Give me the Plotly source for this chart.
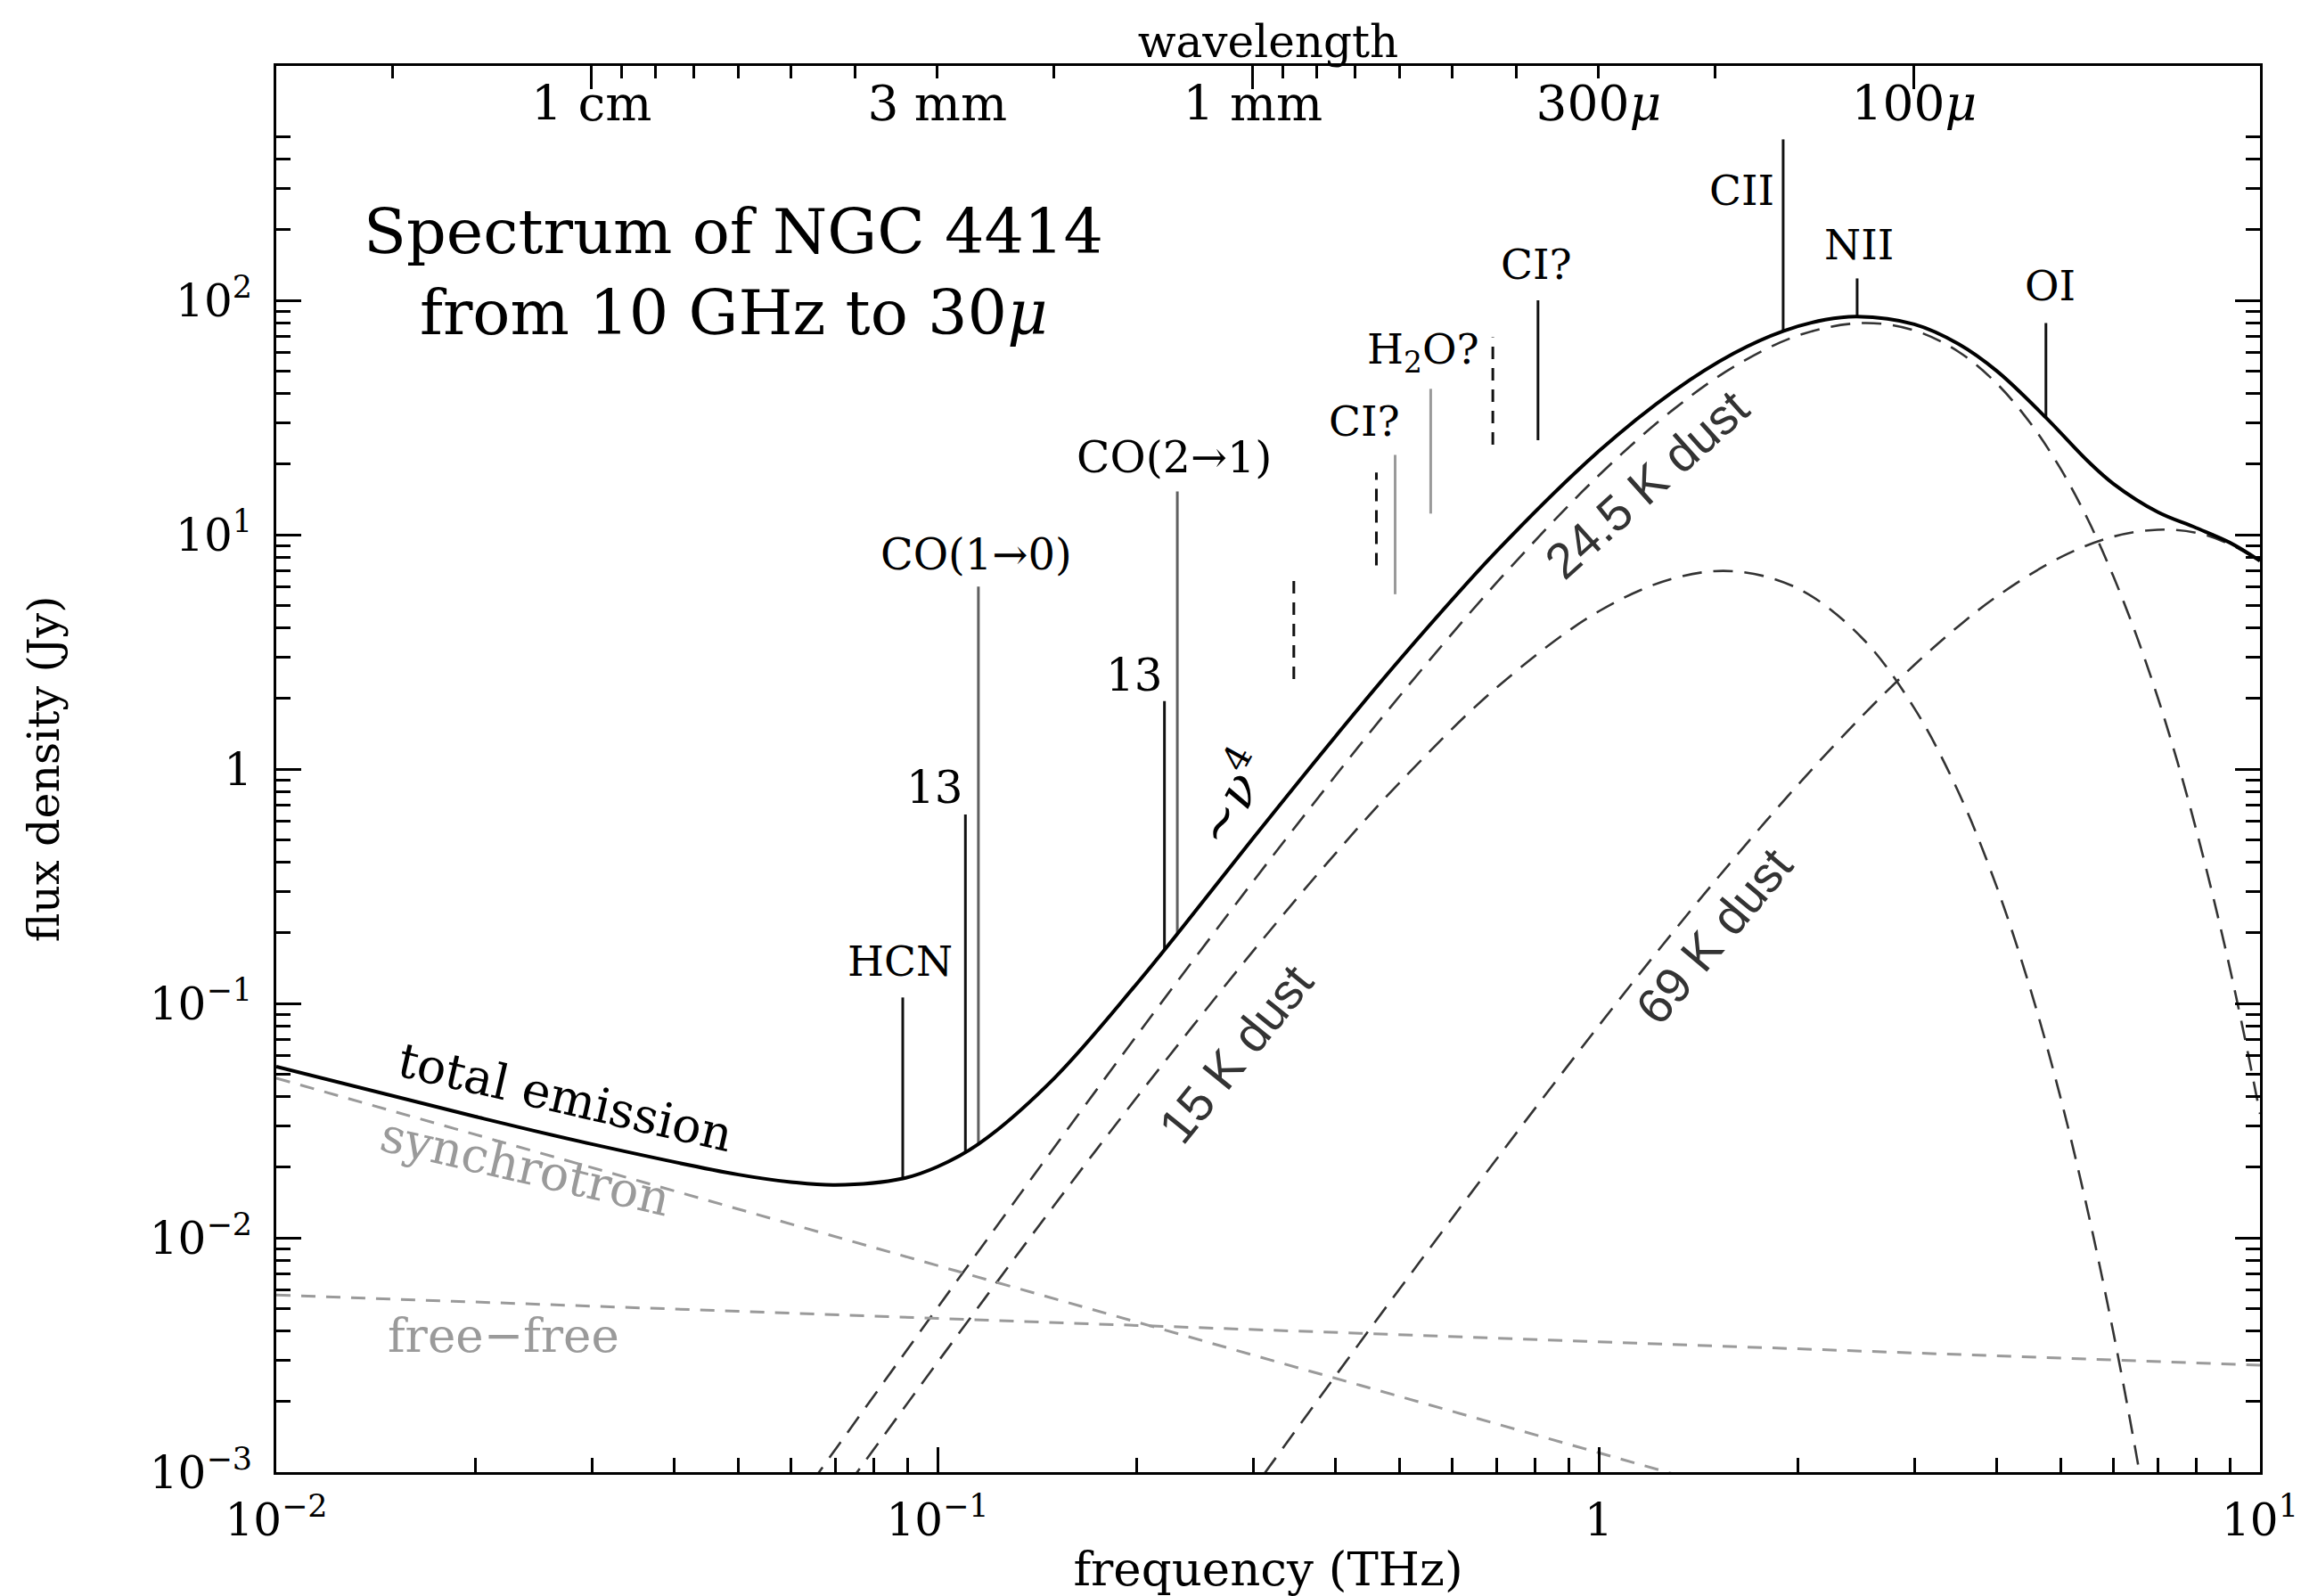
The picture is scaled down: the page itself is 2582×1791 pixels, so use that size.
import numpy as np
import plotly.graph_objects as go

C_THZ_MM = 0.299792458  # speed of light in THz * mm

# ---------------- data ----------------
# total emission (THz, Jy)
freq_total = [0.01, 0.02, 0.03, 0.05, 0.06, 0.07, 0.0886, 0.1, 0.1153, 0.15, 0.2, 0.2305,
              0.3, 0.4, 0.5, 0.7, 1.0, 1.3, 1.6, 1.9, 2.2, 2.459, 3.0, 3.5, 4.0, 4.745,
              5.5, 6.0, 7.0, 8.0, 9.0, 10.0]
flux_total = [0.0537, 0.0329, 0.0251, 0.0186, 0.0173, 0.0168, 0.0179, 0.0201, 0.0251, 0.0478,
              0.121, 0.198, 0.506, 1.38, 2.93, 8.47, 22.7, 41.1, 59.4, 73.9, 82.6, 85.2,
              79.0, 65.1, 49.9, 31.6, 20.5, 16.5, 12.5, 10.7, 9.25, 7.73]

# 24.5 K dust
freq_dust24 = [0.05, 0.07, 0.1, 0.15, 0.2, 0.3, 0.4, 0.5, 0.7, 1.0, 1.3, 1.6, 2.0, 2.5, 3.0,
               3.5, 4.0, 4.5, 5.0, 5.5, 6.0, 6.5, 7.0, 7.5, 8.0, 8.5, 9.0, 9.5, 10.0]
flux_dust24 = [3.31e-4, 1.245e-3, 5.03e-3, 0.0242, 0.0727, 0.331, 0.938, 2.05, 6.22, 17.9,
               34.4, 52.0, 70.7, 80.0, 74.4, 60.3, 44.1, 29.8, 19.0, 11.5, 6.65, 3.73, 2.03,
               1.075, 0.557, 0.283, 0.142, 0.0697, 0.0338]

# 15 K dust
freq_dust15 = [0.05, 0.07, 0.1, 0.15, 0.2, 0.3, 0.4, 0.5, 0.7, 1.0, 1.3, 1.6, 2.0, 2.5, 3.0,
               3.5, 4.0, 4.5, 5.0, 5.5, 6.0, 6.5, 7.0]
flux_dust15 = [2.0e-4, 7.42e-4, 2.94e-3, 0.0137, 0.0396, 0.167, 0.437, 0.876, 2.22, 4.71,
               6.52, 6.98, 5.90, 3.63, 1.82, 0.796, 0.313, 0.114, 0.0390, 0.0127, 3.95e-3,
               1.19e-3, 3.48e-4]

# 69 K dust
freq_dust69 = [0.2, 0.3, 0.4, 0.5, 0.7, 1.0, 1.3, 1.6, 2.0, 2.5, 3.0, 3.5, 4.0, 5.0, 6.0,
               7.0, 8.0, 9.0, 10.0]
flux_dust69 = [1.73e-4, 8.45e-4, 2.58e-3, 6.06e-3, 0.0216, 0.0803, 0.204, 0.414, 0.855, 1.68,
               2.78, 4.07, 5.45, 8.03, 9.81, 10.5, 10.2, 9.11, 7.69]

# synchrotron and free-free
freq_sync = [0.01, 0.03, 0.1, 0.3, 1.0, 2.0]
flux_sync = [0.048, 0.0199, 0.00761, 0.00316, 0.00121, 0.000693]
freq_ff = [0.01, 0.03, 0.1, 0.3, 1.0, 3.0, 10.0]
flux_ff = [0.0057, 0.00511, 0.00453, 0.00406, 0.0036, 0.00322, 0.00286]

# spectral lines: frequency, lower and upper flux
line_names = ["HCN", "13CO(1-0)", "CO(1-0)", "13CO(2-1)", "CO(2-1)", "CO(3-2)", "CO(4-3)",
              "CI(1-0)", "H2O", "CO(6-5)", "CI(2-1)", "CII", "NII", "OI"]
line_freq = [0.0886, 0.1102, 0.1153, 0.2204, 0.2305, 0.3458, 0.4610, 0.4921, 0.5570,
             0.6915, 0.8093, 1.9005, 2.459, 4.745]
line_low = [0.0179, 0.0231, 0.0251, 0.170, 0.198, 2.42, 7.4, 5.57, 12.3, 24.2, 25.3,
            73.9, 85.2, 31.6]
line_high = [0.106, 0.64, 6.0, 1.95, 15.3, 6.63, 18.4, 21.9, 41.9, 69.5, 100.0, 486.0,
             124.0, 80.0]
line_kind = ["dark", "dark", "mid", "dark", "mid", "dash", "dash", "light", "light", "dash",
             "dark", "dark", "dark", "dark"]

# axis tick labels
x_tick_vals = [0.01, 0.1, 1, 10]
x_tick_text = ["10<sup>−2</sup>", "10<sup>−1</sup>", "1", "10<sup>1</sup>"]
y_tick_vals = [1e-3, 1e-2, 1e-1, 1, 10, 100, 1000]
y_tick_text = ["10<sup>−3</sup>", "10<sup>−2</sup>", "10<sup>−1</sup>", "1",
               "10<sup>1</sup>", "10<sup>2</sup>", "10<sup>3</sup>"]
wl_label_mm = [10, 3, 1, 0.3, 0.1]
wl_label_text = ["1 cm", "3 mm", "1 mm", "300<i>μ</i>", "100<i>μ</i>"]
wl_major_mm = [10, 1, 0.1]
wl_minor_mm = [20, 9, 8, 7, 6, 5, 4, 3, 2, 0.9, 0.8, 0.7, 0.6, 0.5, 0.4, 0.3, 0.2]

# ---------------- figure ----------------
FONT = "DejaVu Serif"
SANS = "Liberation Sans"
fig = go.Figure()

DUST = dict(color="#333333", width=2.6, dash="22px,13px", shape="spline")
fig.add_trace(go.Scatter(x=freq_dust24, y=flux_dust24, mode="lines", line=DUST, hoverinfo="skip"))
fig.add_trace(go.Scatter(x=freq_dust15, y=flux_dust15, mode="lines", line=DUST, hoverinfo="skip"))
fig.add_trace(go.Scatter(x=freq_dust69, y=flux_dust69, mode="lines", line=DUST, hoverinfo="skip"))

GRAYDASH = dict(color="#9a9a9a", width=3, dash="16px,12px")
fig.add_trace(go.Scatter(x=freq_ff, y=flux_ff, mode="lines", line=GRAYDASH,
                         xaxis="x2", yaxis="y", hoverinfo="skip"))
fig.add_trace(go.Scatter(x=freq_sync, y=flux_sync, mode="lines", line=GRAYDASH,
                         xaxis="x3", yaxis="y", hoverinfo="skip"))

styles = {
    "dark": dict(color="#111111", width=3),
    "mid": dict(color="#606060", width=3),
    "light": dict(color="#9a9a9a", width=3),
    "dash": dict(color="#111111", width=3, dash="14px,10px"),
}
for kind, st in styles.items():
    xs, ys = [], []
    for f, lo, hi, k in zip(line_freq, line_low, line_high, line_kind):
        if k == kind:
            xs += [f, f, None]
            ys += [lo, hi, None]
    fig.add_trace(go.Scatter(x=xs, y=ys, mode="lines", line=st, hoverinfo="skip"))

fig.add_trace(go.Scatter(x=freq_total, y=flux_total, mode="lines",
                         line=dict(color="black", width=4, shape="spline"), hoverinfo="skip"))

# ---------------- annotations ----------------
def ann(text, lx, ly, size=47, angle=0, color="black", family=FONT):
    fig.add_annotation(x=lx, y=ly, xref="x", yref="y", text=text, showarrow=False,
                       textangle=angle, font=dict(family=family, size=size, color=color))

ann("Spectrum of NGC 4414", -1.308, 2.292, size=70)
ann("from 10 GHz to 30<i>μ</i>", -1.308, 1.948, size=70)
ann("HCN", -1.057, -0.820)
ann("13", -1.004, -0.081, size=50)
ann("CO(1→0)", -0.942, 0.915, size=48)
ann("13", -0.702, 0.401, size=50)
ann("CO(2→1)", -0.642, 1.328, size=49)
ann("CI?", -0.354, 1.485)
ann("H<sub>2</sub>O?", -0.265, 1.779)
ann("CI?", -0.094, 2.155)
ann("CII", 0.2165, 2.468)
ann("NII", 0.394, 2.236)
ann("OI", 0.6825, 2.061)
ann("~<i>ν</i><sup>4</sup>", -0.558, -0.118, size=58, angle=-61)
ann("24.5 K dust", 0.0723, 1.215, size=56, angle=-42, color="#333333", family=SANS)
ann("15 K dust", -0.549, -1.214, size=56, angle=-51, color="#333333", family=SANS)
ann("69 K dust", 0.174, -0.713, size=56, angle=-50, color="#333333", family=SANS)
ann("total emission", -1.563, -1.402, size=54, angle=13)
ann("synchrotron", -1.623, -1.696, size=54, angle=13, color="#9a9a9a")
ann("free−free", -1.656, -2.416, size=53, color="#9a9a9a")

# ---------------- axes ----------------
minor_x = [k * 10.0 ** e for e in (-2, -1, 0) for k in range(2, 10)]
minor_y = [k * 10.0 ** e for e in range(-3, 3) for k in range(2, 10)]
TICKFONT = dict(family=FONT, size=50, color="black")

fig.update_layout(
    template="none",
    width=2582, height=1791,
    margin=dict(l=310, r=46, t=74, b=139),
    paper_bgcolor="white", plot_bgcolor="white",
    showlegend=False,
    font=dict(family=FONT, size=46, color="black"),
    xaxis=dict(type="log", range=[-2, 1], showgrid=False, zeroline=False,
               showline=True, linecolor="black", linewidth=3, mirror=False,
               ticks="inside", ticklen=28, tickwidth=3, tickcolor="black",
               tickmode="array", tickvals=x_tick_vals, ticktext=x_tick_text,
               tickfont=TICKFONT, ticklabelstandoff=8,
               minor=dict(tickmode="array", tickvals=minor_x, ticks="inside",
                          ticklen=16, tickwidth=3, tickcolor="black"),
               title=dict(text="frequency (THz)", standoff=8,
                          font=dict(family=FONT, size=53))),
    xaxis2=dict(type="log", range=[-2, 1], overlaying="x", side="top", anchor="y",
                showgrid=False, zeroline=False, showline=True, linecolor="black",
                linewidth=3, ticks="inside", ticklen=30, tickwidth=3,
                tickcolor="rgba(0,0,0,0)", ticklabelposition="inside",
                tickmode="array", tickvals=[C_THZ_MM / w for w in wl_label_mm],
                ticktext=wl_label_text, tickfont=dict(family=FONT, size=55, color="black"),
                minor=dict(tickmode="array", tickvals=[C_THZ_MM / w for w in wl_minor_mm],
                           ticks="inside", ticklen=14, tickwidth=3, tickcolor="black"),
                title=dict(text="wavelength", standoff=4,
                           font=dict(family=FONT, size=50))),
    xaxis3=dict(type="log", range=[-2, 1], overlaying="x", side="top", anchor="y",
                showgrid=False, zeroline=False, showline=False,
                ticks="inside", ticklen=26, tickwidth=3, tickcolor="black",
                tickmode="array", tickvals=[C_THZ_MM / w for w in wl_major_mm],
                showticklabels=False),
    yaxis=dict(type="log", range=[-3, 3], showgrid=False, zeroline=False,
               showline=True, linecolor="black", linewidth=3, mirror="ticks",
               ticks="inside", ticklen=28, tickwidth=3, tickcolor="black",
               tickmode="array", tickvals=y_tick_vals, ticktext=y_tick_text,
               tickfont=TICKFONT, ticklabelstandoff=14,
               minor=dict(tickmode="array", tickvals=minor_y, ticks="inside",
                          ticklen=16, tickwidth=3, tickcolor="black"),
               title=dict(text="flux density (Jy)", standoff=86,
                          font=dict(family=FONT, size=49))),
)

fig.write_html("out.html")
